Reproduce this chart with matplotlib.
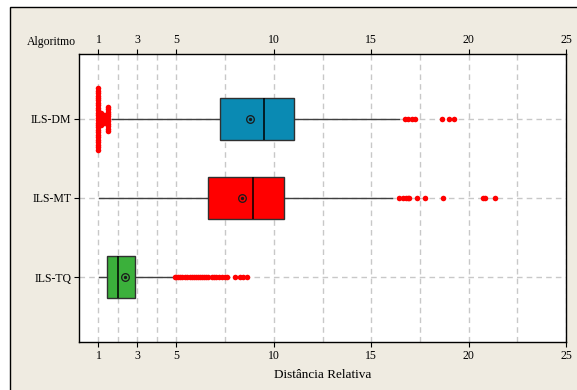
import numpy as np
import matplotlib
matplotlib.use("Agg")
import matplotlib.pyplot as plt
from matplotlib.patches import Rectangle

plt.rcParams['font.family'] = ['Liberation Serif', 'DejaVu Serif']

# ---------------- data ----------------
algorithms = ["ILS-DM", "ILS-MT", "ILS-TQ"]
positions = [3, 2, 1]
box_colors = ["#0a8ab3", "#ff0000", "#3bb03b"]

q1 = [7.25, 6.63, 1.44]
median = [9.51, 8.95, 1.99]
q3 = [11.05, 10.54, 2.85]
whis_lo = [1.68, 1.02, 1.05]
whis_hi = [16.43, 16.06, 4.84]
means = [8.79, 8.38, 2.35]

# outliers: value and how many points stacked at that value
dm_out_vals = [1.0, 1.15, 1.3, 1.5, 16.74, 16.91, 17.08, 17.25, 18.63, 18.97, 19.27]
dm_out_counts = [26, 6, 4, 11, 1, 1, 1, 1, 1, 1, 1]
mt_out_vals = [16.43, 16.65, 16.78, 16.88, 16.96, 17.34, 17.77, 18.71, 20.76, 20.85, 21.36]
mt_out_counts = [1, 1, 1, 1, 1, 1, 1, 1, 1, 1, 1]
tq_out_vals = [4.92, 5.0, 5.1, 5.2, 5.3, 5.45, 5.55, 5.7, 5.8, 5.9, 6.0, 6.1, 6.2,
               6.3, 6.4, 6.5, 6.6, 6.85, 6.95, 7.05, 7.2, 7.35, 7.5, 7.6, 8.0,
               8.25, 8.4, 8.6]
tq_out_counts = [1] * len(tq_out_vals)
outliers = [(dm_out_vals, dm_out_counts), (mt_out_vals, mt_out_counts),
            (tq_out_vals, tq_out_counts)]

xtick_labels = [1, 3, 5, 10, 15, 20, 25]
xgrid_minor = [2, 4, 7.5, 12.5, 17.5, 22.5]

# ---------------- figure ----------------
W, H = 577, 390
fig = plt.figure(figsize=(W / 100, H / 100), dpi=100)
fig.patch.set_facecolor("white")
fig.patches.append(Rectangle((10 / W, -0.05), 1.2, 1 - 7 / H + 0.05,
                             transform=fig.transFigure, facecolor="#efebe1",
                             edgecolor="black", linewidth=1.0, zorder=-10))

ax = fig.add_axes([79 / W, 1 - 342 / H, (566 - 79) / W, (342 - 54) / H])
ax.set_facecolor("white")

stats = []
for i in range(3):
    stats.append(dict(med=median[i], q1=q1[i], q3=q3[i], whislo=whis_lo[i],
                      whishi=whis_hi[i], mean=means[i], fliers=[]))

bp = ax.bxp(stats, positions=positions, vert=False, widths=0.54,
            patch_artist=True, showmeans=True, showcaps=False,
            boxprops=dict(edgecolor="#303030", linewidth=1.0),
            medianprops=dict(color="black", linewidth=1.1),
            whiskerprops=dict(color="#404040", linewidth=1.0),
            meanprops=dict(marker="o", markerfacecolor="none",
                           markeredgecolor="#1a1a1a", markersize=5.5,
                           markeredgewidth=0.9))
for patch, c in zip(bp["boxes"], box_colors):
    patch.set_facecolor(c)
    patch.set_zorder(3)
for m in bp["medians"] + bp["means"]:
    m.set_zorder(4)
ax.plot(means, positions, linestyle="none", marker="o", markersize=1.4,
        color="#1a1a1a", zorder=5)

# outliers, stacking repeated values vertically
step = 0.031
for (vals, counts), pos in zip(outliers, positions):
    xs, ys = [], []
    for v, n in zip(vals, counts):
        offs = (np.arange(n) - (n - 1) / 2) * step
        xs.extend([v] * n)
        ys.extend(pos + offs)
    ax.plot(xs, ys, linestyle="none", marker="o", markersize=4.0,
            color="#ff0000", markeredgewidth=0, zorder=6)

ax.set_xlim(0, 25)
ax.set_ylim(0.18, 3.82)
ax.set_xticks(xtick_labels)
ax.set_xticks(xgrid_minor, minor=True)
ax.set_yticks(positions)
ax.set_yticklabels(algorithms)

ax.grid(True, which="both", axis="x", linestyle=(0, (4, 3)), color="#c8c8c8",
        linewidth=1.0, zorder=0)
ax.grid(True, which="major", axis="y", linestyle=(0, (4, 3)), color="#c8c8c8",
        linewidth=1.0, zorder=0)
ax.set_axisbelow(True)

ax.tick_params(axis="x", which="major", top=True, labeltop=True, direction="out",
               length=3.5, width=0.8, labelsize=8.5, pad=2)
ax.tick_params(axis="x", which="minor", length=0)
ax.tick_params(axis="y", direction="out", length=3.5, width=0.8, labelsize=8.5, pad=2)
for s in ax.spines.values():
    s.set_color("black")
    s.set_linewidth(1.0)

ax.set_xlabel("Distância Relativa", fontsize=9.5, labelpad=5)
fig.text(51 / W, 1 - 42 / H, "Algoritmo", ha="center", va="center", fontsize=8.5)

fig.savefig("out.png", dpi=100, facecolor=fig.get_facecolor())
